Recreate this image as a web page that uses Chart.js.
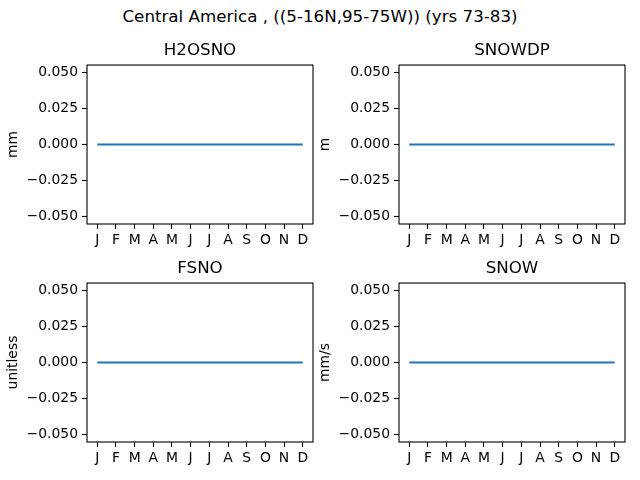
<!DOCTYPE html>
<html>
<head>
<meta charset="utf-8">
<script src="https://cdn.jsdelivr.net/npm/chart.js@4"></script>
<style>
  body { margin: 0; background: #fff; }
  #page { position: relative; width: 640px; height: 480px; overflow: hidden; }
  #suptitle { position: absolute; left: 0; top: 6px; width: 640px; text-align: center;
    font-family: "DejaVu Sans"; font-size: 16.7px; color: #000; }
  canvas { position: absolute; }
</style>
</head>
<body>
<div id="page">
  <div id="suptitle">Central America , ((5-16N,95-75W)) (yrs 73-83)</div>
  <canvas id="c1" width="320" height="218" style="left:0px;top:36px"></canvas>
  <canvas id="c2" width="320" height="218" style="left:312px;top:36px"></canvas>
  <canvas id="c3" width="320" height="218" style="left:0px;top:254px"></canvas>
  <canvas id="c4" width="320" height="218" style="left:312px;top:254px"></canvas>
</div>
<script>
const months = ['J', 'F', 'M', 'A', 'M', 'J', 'J', 'A', 'S', 'O', 'N', 'D'];
const h2osnoValues = [0, 0, 0, 0, 0, 0, 0, 0, 0, 0, 0, 0];
const snowdpValues = [0, 0, 0, 0, 0, 0, 0, 0, 0, 0, 0, 0];
const fsnoValues = [0, 0, 0, 0, 0, 0, 0, 0, 0, 0, 0, 0];
const snowValues = [0, 0, 0, 0, 0, 0, 0, 0, 0, 0, 0, 0];
const yTicks = [-0.05, -0.025, 0, 0.025, 0.05];

const panels = [
  { id: 'c1', title: 'H2OSNO', unit: 'mm', values: h2osnoValues },
  { id: 'c2', title: 'SNOWDP', unit: 'm', values: snowdpValues },
  { id: 'c3', title: 'FSNO', unit: 'unitless', values: fsnoValues },
  { id: 'c4', title: 'SNOW', unit: 'mm/s', values: snowValues }
];

const font = { family: 'DejaVu Sans', size: 13.9 };

// matplotlib style box around the axes
const frame = {
  id: 'frame',
  afterDraw(chart) {
    const a = chart.chartArea;
    const ctx = chart.ctx;
    ctx.save();
    ctx.strokeStyle = '#000';
    ctx.lineWidth = 1.1;
    ctx.strokeRect(a.left, a.top, a.right - a.left, a.bottom - a.top);
    ctx.restore();
  }
};

function fmt(v) {
  return (v < 0 ? '\u2212' : '') + Math.abs(v).toFixed(3);
}

panels.forEach(p => {
  new Chart(document.getElementById(p.id), {
    type: 'line',
    data: {
      datasets: [{
        data: p.values.map((v, i) => ({ x: i, y: v })),
        borderColor: '#1f77b4',
        borderWidth: 2.1,
        pointRadius: 0,
        fill: false,
        tension: 0
      }]
    },
    options: {
      responsive: false,
      animation: false,
      devicePixelRatio: 1,
      layout: { padding: { left: 0, right: 7, top: 0, bottom: 0 } },
      plugins: {
        legend: { display: false },
        tooltip: { enabled: false },
        title: {
          display: true,
          fullSize: false,
          text: p.title,
          color: '#000',
          font: { family: 'DejaVu Sans', size: 16.7, weight: 'normal', lineHeight: 1.2 },
          padding: { top: 5, bottom: 4 }
        }
      },
      scales: {
        x: {
          type: 'linear',
          min: -0.55,
          max: 11.55,
          afterBuildTicks: s => { s.ticks = months.map((m, i) => ({ value: i })); },
          afterFit: s => { s.height = 30; },
          ticks: {
            autoSkip: false,
            maxRotation: 0,
            padding: 3,
            color: '#000',
            font: font,
            callback: v => months[v]
          },
          grid: { drawOnChartArea: false, tickLength: 5, tickColor: '#000', tickWidth: 1.1 },
          border: { display: false }
        },
        y: {
          min: -0.055,
          max: 0.055,
          afterBuildTicks: s => { s.ticks = yTicks.map(v => ({ value: v })); },
          afterFit: s => { s.width = 87; },
          ticks: { padding: 4, color: '#000', font: font, callback: v => fmt(v) },
          grid: { drawOnChartArea: false, tickLength: 5, tickColor: '#000', tickWidth: 1.1 },
          border: { display: false },
          title: {
            display: true,
            text: p.unit,
            color: '#000',
            font: { family: 'DejaVu Sans', size: 13.9, lineHeight: 1.2 },
            padding: { top: 5, bottom: 0 }
          }
        }
      }
    },
    plugins: [frame]
  });
});
</script>
</body>
</html>
